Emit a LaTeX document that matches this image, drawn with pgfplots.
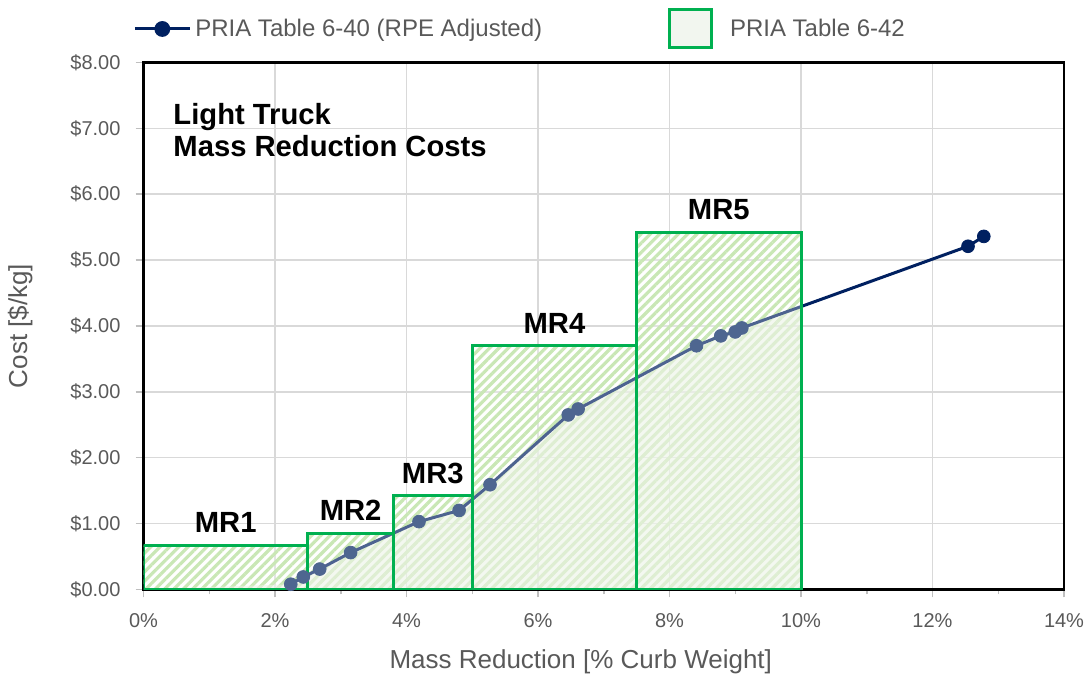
\documentclass[border=0pt]{standalone}
\usepackage{fontspec}
\setmainfont{Liberation Sans}
\usepackage{pgfplots}
\pgfplotsset{compat=1.18}
\usepackage{pgfplotstable}
\usepgfplotslibrary{fillbetween}
\usetikzlibrary{patterns.meta}
\definecolor{navy}{HTML}{002060}
\definecolor{markblue}{HTML}{4E6690}
\definecolor{mrgreen}{HTML}{00B050}
\definecolor{txtgray}{HTML}{595959}
\definecolor{gridgray}{HTML}{D9D9D9}
\definecolor{tickgray}{HTML}{BFBFBF}
\definecolor{hatchgreen}{HTML}{B2DD95}
\definecolor{plainfill}{HTML}{E4EEDC}
\definecolor{legfill}{HTML}{F2F6EF}

\pgfplotsset{
  linelegend/.style={legend image code/.code={\draw[mark repeat=2,mark phase=2,mark=*,mark size=3.2pt,##1] plot coordinates {(0pt,0pt) (13.75pt,0pt) (27.5pt,0pt)};}},
  boxlegend/.style={legend image code/.code={\draw[draw=mrgreen,line width=1.5pt,fill=legfill] (0pt,-9.5pt) rectangle (21pt,9.5pt); \path (28pt,0pt);}},
}

% PRIA Table 6-40 (RPE Adjusted): mass reduction [%], cost [$/kg]
\pgfplotstableread{
x y
2.24 0.08
2.43 0.19
2.68 0.31
3.15 0.56
4.19 1.03
4.80 1.20
5.27 1.59
6.46 2.65
6.61 2.74
8.41 3.70
8.78 3.85
9.00 3.91
9.10 3.97
12.54 5.21
12.78 5.36
}\costdata

% PRIA Table 6-42: upper edge of the MR1..MR5 boxes
\pgfplotstableread{
x y
0 0.67
2.5 0.67
2.5 0.855
3.8 0.855
3.8 1.42
5.0 1.42
5.0 3.70
7.5 3.70
7.5 5.42
10.0 5.42
10.0 0
}\boxdata

\begin{document}
\begin{tikzpicture}
\begin{axis}[
  scale only axis, width=460.25pt, height=263.5pt,
  xmin=0, xmax=14, ymin=0, ymax=8,
  xtick={0,2,...,14}, minor xtick={1,3,...,13}, ytick={0,1,...,8},
  grid=major, major grid style={gridgray, line width=0.75pt},
  axis line style={black, line width=1.2pt},
  tick align=outside, xtick pos=bottom, ytick pos=left,
  major tick length=4pt, minor tick length=2.5pt,
  tick style={tickgray, line width=0.75pt},
  /pgf/number format/assume math mode=true,
  xticklabel={\pgfmathprintnumber{\tick}\%},
  yticklabel={\$\pgfmathprintnumber[fixed,fixed zerofill,precision=2]{\tick}},
  ticklabel style={font=\fontsize{10}{12}\selectfont, text=txtgray},
  xticklabel style={yshift=-4.5pt},
  yticklabel style={xshift=-4pt},
  xlabel={Mass Reduction [\% Curb Weight]},
  ylabel={Cost [\$/kg]},
  label style={font=\fontsize{13}{15}\selectfont, text=txtgray},
  xlabel style={at={(axis description cs:0.475,-0.138)}, anchor=center},
  ylabel style={at={(axis description cs:-0.134,0.5)}, anchor=center},
  legend columns=2,
  legend cell align=left,
  legend style={at={(axis description cs:-0.018,1.0636)}, anchor=west,
    draw=none, fill=none, font=\fontsize{12}{14}\selectfont, text=txtgray,
    /tikz/every even column/.append style={column sep=61pt}},
]
% invisible paths for the fills
\addplot[draw=none, name path=cost, forget plot] table[x=x,y=y] {\costdata};
\addplot[draw=none, name path=boxtop, forget plot] table[x=x,y=y] {\boxdata};
\path[name path=bottom] (axis cs:0,0) -- (axis cs:14,0);
\path[name path=bottomten] (axis cs:0,0) -- (axis cs:10,0);

% hatched boxes (PRIA Table 6-42)
\addplot[draw=none, pattern={Lines[angle=45,distance=3.3pt,line width=1.6pt]}, pattern color=hatchgreen, forget plot]
  fill between[of=boxtop and bottomten];

% plain fill below the line inside the boxes
\addplot[fill=plainfill, fill opacity=0.6, draw=none, forget plot]
  fill between[of=cost and bottom, soft clip={domain=0:10}];

% cost line
\addplot[navy, line width=1.5pt, mark=none, linelegend]
  table[x=x,y=y] {\costdata};
\addlegendentry{PRIA Table 6-40 (RPE Adjusted)}
\addplot[only marks, mark=*, mark size=3.2pt, markblue, restrict x to domain=0:10, forget plot]
  table[x=x,y=y] {\costdata};
\addplot[only marks, mark=*, mark size=3.2pt, navy, restrict x to domain=10:14, forget plot]
  table[x=x,y=y] {\costdata};

% box overlays and outlines
\addplot[fill=white, fill opacity=0.3, draw=mrgreen, line width=1.5pt, forget plot]
  coordinates {(0,0) (0,0.67) (2.5,0.67) (2.5,0)} -- cycle;
\addplot[fill=white, fill opacity=0.3, draw=mrgreen, line width=1.5pt, forget plot]
  coordinates {(2.5,0) (2.5,0.855) (3.8,0.855) (3.8,0)} -- cycle;
\addplot[fill=white, fill opacity=0.3, draw=mrgreen, line width=1.5pt, forget plot]
  coordinates {(3.8,0) (3.8,1.42) (5.0,1.42) (5.0,0)} -- cycle;
\addplot[fill=white, fill opacity=0.3, draw=mrgreen, line width=1.5pt, forget plot]
  coordinates {(5.0,0) (5.0,3.70) (7.5,3.70) (7.5,0)} -- cycle;
\addplot[fill=white, fill opacity=0.3, draw=mrgreen, line width=1.5pt, forget plot]
  coordinates {(7.5,0) (7.5,5.42) (10.0,5.42) (10.0,0)} -- cycle;

\addlegendimage{boxlegend}
\addlegendentry{PRIA Table 6-42}

% labels
\node[anchor=base west, inner sep=0pt, font=\bfseries\fontsize{14.6}{16}\selectfont] at (axis cs:0.45,7.06) {Light Truck};
\node[anchor=base west, inner sep=0pt, font=\bfseries\fontsize{14.6}{16}\selectfont] at (axis cs:0.45,6.57) {Mass Reduction Costs};
\node[anchor=base, inner sep=0pt, yshift=6.3pt, font=\bfseries\fontsize{14.6}{16}\selectfont] at (axis cs:1.25,0.67) {MR1};
\node[anchor=base, inner sep=0pt, yshift=6.3pt, font=\bfseries\fontsize{14.6}{16}\selectfont] at (axis cs:3.15,0.855) {MR2};
\node[anchor=base, inner sep=0pt, yshift=6.3pt, font=\bfseries\fontsize{14.6}{16}\selectfont] at (axis cs:4.4,1.42) {MR3};
\node[anchor=base, inner sep=0pt, yshift=6.3pt, font=\bfseries\fontsize{14.6}{16}\selectfont] at (axis cs:6.25,3.70) {MR4};
\node[anchor=base, inner sep=0pt, yshift=6.3pt, font=\bfseries\fontsize{14.6}{16}\selectfont] at (axis cs:8.75,5.42) {MR5};

\coordinate (bbsw) at (rel axis cs:0,0);
\coordinate (bbne) at (rel axis cs:1,1);
\end{axis}
\pgfresetboundingbox
\path ([shift={(-71.75pt,-44.75pt)}]bbsw) rectangle ([shift={(10.5pt,31.25pt)}]bbne);
\end{tikzpicture}
\end{document}
